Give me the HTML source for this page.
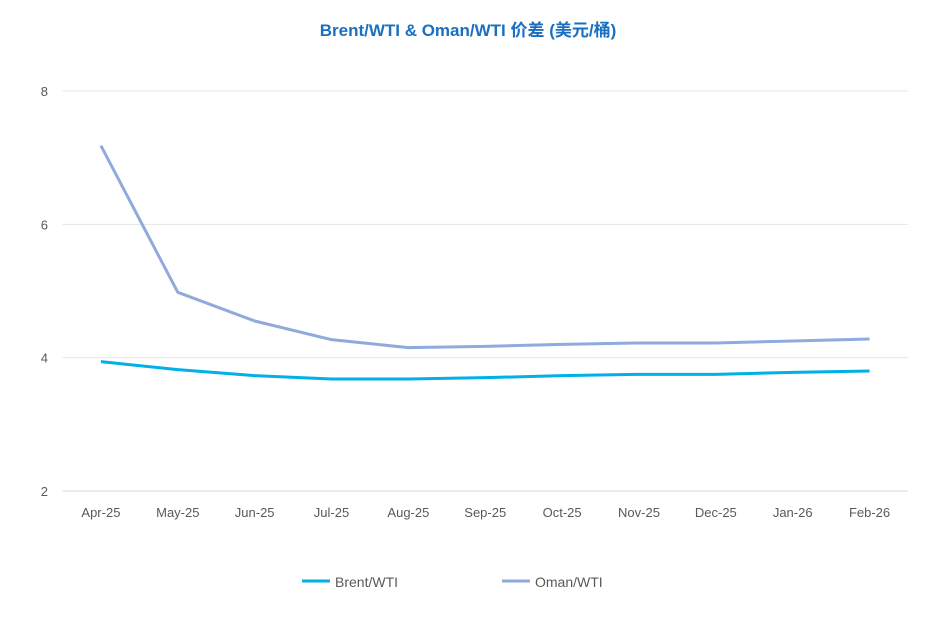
<!DOCTYPE html>
<html><head><meta charset="utf-8"><style>
body{margin:0;background:#fff;}
svg text{font-family:"Liberation Sans","Noto Sans CJK SC",sans-serif;}
</style></head><body>
<svg id="chart" width="937" height="634" xmlns="http://www.w3.org/2000/svg">
<rect width="937" height="634" fill="#fff"/>
<text x="468" y="36" text-anchor="middle" font-size="17" font-weight="bold" fill="#1a6fc0">Brent/WTI &amp; Oman/WTI 价差 (美元/桶)</text>
<g id="grid"></g><g id="yt"></g><g id="xt"></g><g id="lines"></g>
<g>
<line x1="302" y1="581" x2="330" y2="581" stroke="#00b0e6" stroke-width="3"/>
<text x="335" y="587" font-size="14" fill="#595959">Brent/WTI</text>
<line x1="502" y1="581" x2="530" y2="581" stroke="#8faadc" stroke-width="3"/>
<text x="535" y="587" font-size="14" fill="#595959">Oman/WTI</text>
</g>
</svg>
<script>
const categories=["Apr-25","May-25","Jun-25","Jul-25","Aug-25","Sep-25","Oct-25","Nov-25","Dec-25","Jan-26","Feb-26"];
const brent=[3.94,3.82,3.73,3.68,3.68,3.70,3.73,3.75,3.75,3.78,3.80];
const oman=[7.18,4.98,4.55,4.27,4.15,4.17,4.20,4.22,4.22,4.25,4.28];
const yTicks=[2,4,6,8];
const NS="http://www.w3.org/2000/svg";
const L=62.5,R=908,T=91,B=491,ymin=2,ymax=8;
const bw=(R-L)/categories.length;
const x=i=>L+bw*(i+0.5);
const y=v=>B-(v-ymin)/(ymax-ymin)*(B-T);
function mk(tag,attrs,parent){const e=document.createElementNS(NS,tag);for(const k in attrs)e.setAttribute(k,attrs[k]);document.getElementById(parent).appendChild(e);return e;}
yTicks.forEach(t=>{
 const g=mk("line",{x1:L,x2:R,y1:y(t),y2:y(t),stroke:t===2?"#d9d9d9":"#e6e6e6","stroke-width":1},"grid");
 
 
 const tx=mk("text",{x:48,y:y(t)+5,"text-anchor":"end","font-size":13,fill:"#595959"},"yt");
 tx.textContent=t;
 
 
});
categories.forEach((c,i)=>{
 const tx=mk("text",{x:x(i),y:517,"text-anchor":"middle","font-size":13,fill:"#595959"},"xt");
 tx.textContent=c;
 
 
});
function line(data,color,name){
 const p=mk("polyline",{points:data.map((v,i)=>x(i)+","+y(v)).join(" "),fill:"none",stroke:color,"stroke-width":3,"stroke-linejoin":"round"},"lines");
 
 
}
line(brent,"#00b0e6","brent-wti-line");
line(oman,"#8faadc","oman-wti-line");
</script>
</body></html>
